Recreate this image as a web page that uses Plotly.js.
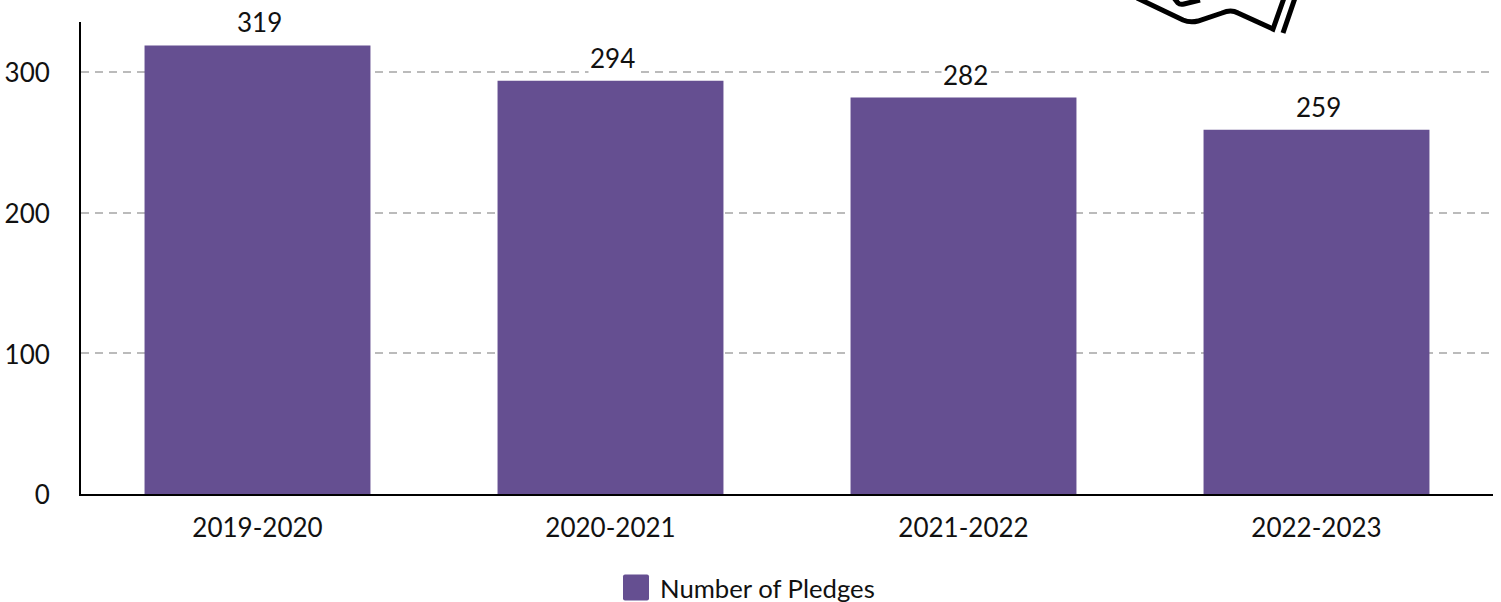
<!DOCTYPE html>
<html><head><meta charset="utf-8">
<script src="https://cdn.plot.ly/plotly-3.0.1.min.js"></script>
<style>html,body{margin:0;padding:0;background:#fff}</style></head>
<body><div id="chart" style="width:1501px;height:602px"></div>
<script>
const categories = ["2019-2020","2020-2021","2021-2022","2022-2023"];
const pledges = [319,294,282,259];
const seriesName = "Number of Pledges";
const tickValues = [0,100,200,300];

const W=1501,H=602,L=81,R=8,T=22,B=108;
const px=x=>(x-L)/(W-L-R), py=y=>1-(y-T)/(H-T-B);
const pathOf=pts=>pts.map(c=>{
  let s=c[0];
  for(let i=1;i<c.length;i+=2) s+=(i>1?" ":"")+px(c[i])+","+py(c[i+1]);
  return s;
}).join(" ");
const icon=[
 [["M",1137,-2],["L",1183,20],["Q",1190,23,1198,21],["L",1222,13],["Q",1231,9,1238,13],["L",1273,29],["L",1284,-2]],
 [["M",1174,-2],["L",1178,3],["Q",1180,5,1184,4],["L",1200,0]],
 [["M",1283,33],["L",1295,-2]]
];
const iconShapes=icon.map(p=>({type:"path",xref:"paper",yref:"paper",path:pathOf(p),
  line:{color:"#000",width:5},layer:"above"}));

Plotly.newPlot("chart",[{
  type:"bar",x:categories,y:pledges,name:seriesName,showlegend:true,
  marker:{color:"#654f91"},hoverinfo:"x+y"
}],{
  width:W,height:H,margin:{l:L,r:R,t:T,b:B,pad:0,autoexpand:false},
  paper_bgcolor:"#fff",plot_bgcolor:"#fff",bargap:0.36,
  font:{family:"Lato, sans-serif",size:26,color:"#111"},
  xaxis:{type:"category",showline:true,linecolor:"#000",linewidth:2,ticks:"",
    showgrid:false,zeroline:false,tickfont:{size:26},ticklabelstandoff:10},
  yaxis:{range:[0,335.7],tickvals:tickValues,showline:true,linecolor:"#000",linewidth:2,
    ticks:"",gridcolor:"#bbb",gridwidth:2,griddash:"8px,6px",zeroline:false,
    tickfont:{size:26},ticklabelstandoff:24,ticklabelshift:1},
  showlegend:true,
  legend:{orientation:"h",x:0.4738,xanchor:"center",y:-0.149,yanchor:"top",font:{size:25.7},itemclick:false},
  annotations:categories.map((c,i)=>({x:c,y:pledges[i],text:String(pledges[i]),showarrow:false,
    yanchor:"bottom",yshift:5,xshift:2,bgcolor:"#fff",borderpad:1,font:{size:26,color:"#111"}})),
  shapes:iconShapes
},{displayModeBar:false}).then(()=>{
  document.querySelectorAll("g.legendpoints path").forEach(p=>{
    p.setAttribute("d","M-15,-13H7Q9,-13 9,-11V11Q9,13 7,13H-15Q-17,13 -17,11V-11Q-17,-13 -15,-13Z");
  });
});
</script></body></html>
